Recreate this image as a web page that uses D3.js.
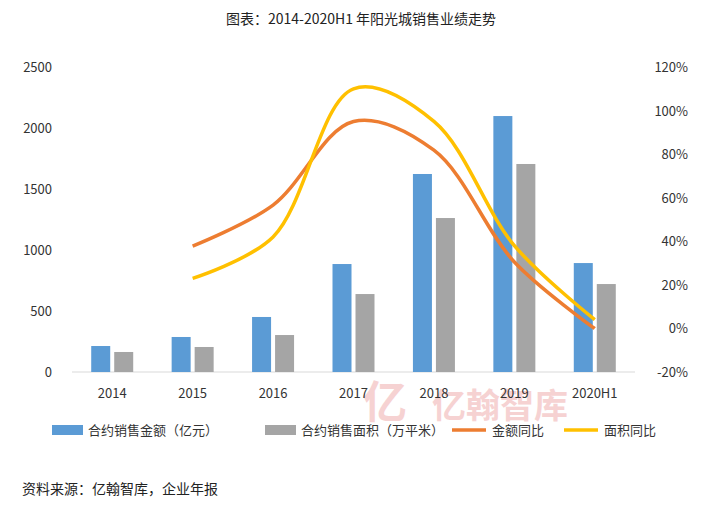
<!DOCTYPE html>
<html>
<head>
<meta charset="utf-8" />
<script src="https://d3js.org/d3.v7.min.js"></script>
<style>
  body { margin: 0; background: #fff; font-family: "Noto Sans CJK SC", "Noto Sans", sans-serif; }
</style>
</head>
<body>
<script>
// data
const years = ["2014", "2015", "2016", "2017", "2018", "2019", "2020H1"];
const amount = [213, 287, 451, 885, 1623, 2098, 893];      // 合约销售金额（亿元）
const area = [164, 205, 303, 639, 1262, 1705, 721];        // 合约销售面积（万平米）
const amountYoY = [null, 37.8, 56.6, 95, 81.8, 30.5, 0];  // 金额同比 %
const areaYoY = [null, 23, 42, 110, 95, 38, 4];           // 面积同比 %
const leftTicks = [0, 500, 1000, 1500, 2000, 2500];
const rightTicks = [-20, 0, 20, 40, 60, 80, 100, 120];

const W = 722, H = 512;
const m = { top: 67, left: 72, right: 87, bottom: 140 };

const svg = d3.select("body").append("svg")
  .attr("width", W).attr("height", H)
  .style("font-family", "'Noto Sans CJK SC', sans-serif");

const x = d3.scaleBand().domain(years).range([m.left, W - m.right]);
const yL = d3.scaleLinear().domain([0, 2500]).range([372, 67]);
const yR = d3.scaleLinear().domain([-20, 120]).range([372, 67]);

// watermark
svg.append("text").attr("x", 500).attr("y", 418).attr("text-anchor", "middle")
  .attr("font-size", 34).attr("font-weight", "bold").attr("fill", "#f6d2d2")
  .text("亿翰智库");
svg.append("text").attr("x", 385).attr("y", 418).attr("text-anchor", "middle")
  .attr("font-size", 44).attr("font-weight", "bold").attr("fill", "#f6d2d2")
  .text("亿");

svg.append("text").attr("x", W / 2).attr("y", 24).attr("text-anchor", "middle")
  .attr("font-size", 14).attr("fill", "#222")
  .text("图表：2014-2020H1 年阳光城销售业绩走势");

svg.append("line").attr("x1", m.left).attr("x2", W - m.right)
  .attr("y1", yL(0)).attr("y2", yL(0)).attr("stroke", "#d9d9d9");

svg.append("g").selectAll("text").data(leftTicks).join("text")
  .attr("x", 52).attr("y", d => yL(d) + 5).attr("text-anchor", "end")
  .attr("font-size", 13).attr("fill", "#333").text(d => d);
svg.append("g").selectAll("text").data(rightTicks).join("text")
  .attr("x", 688).attr("y", d => yR(d) + 5).attr("text-anchor", "end")
  .attr("font-size", 13).attr("fill", "#333").text(d => d + "%");
svg.append("g").selectAll("text").data(years).join("text")
  .attr("x", d => x(d) + x.bandwidth() / 2).attr("y", 398).attr("text-anchor", "middle")
  .attr("font-size", 13).attr("fill", "#333").text(d => d);

const bw = 19;
svg.append("g").selectAll("rect").data(amount).join("rect")
  .attr("x", (d, i) => x(years[i]) + x.bandwidth() / 2 - bw - 2)
  .attr("y", d => yL(d)).attr("width", bw).attr("height", d => yL(0) - yL(d))
  .attr("fill", "#5b9bd5");
svg.append("g").selectAll("rect").data(area).join("rect")
  .attr("x", (d, i) => x(years[i]) + x.bandwidth() / 2 + 2)
  .attr("y", d => yL(d)).attr("width", bw).attr("height", d => yL(0) - yL(d))
  .attr("fill", "#a5a5a5");

const line = d3.line()
  .defined(d => d[1] != null)
  .x(d => x(d[0]) + x.bandwidth() / 2).y(d => yR(d[1]))
  .curve(d3.curveCatmullRom.alpha(0.5));
svg.append("path").datum(years.map((y, i) => [y, amountYoY[i]]))
  .attr("d", line).attr("fill", "none").attr("stroke", "#ed7d31").attr("stroke-width", 3.5);
svg.append("path").datum(years.map((y, i) => [y, areaYoY[i]]))
  .attr("d", line).attr("fill", "none").attr("stroke", "#ffc000").attr("stroke-width", 3.5);

// legend
const leg = [
  { t: "合约销售金额（亿元）", c: "#5b9bd5", type: "rect", x: 52 },
  { t: "合约销售面积（万平米）", c: "#a5a5a5", type: "rect", x: 265 },
  { t: "金额同比", c: "#ed7d31", type: "line", x: 452 },
  { t: "面积同比", c: "#ffc000", type: "line", x: 564 }
];
const lg = svg.append("g").selectAll("g").data(leg).join("g")
  .attr("transform", d => `translate(${d.x},430)`);
lg.filter(d => d.type === "rect").append("rect")
  .attr("x", 0).attr("y", -5).attr("width", 31).attr("height", 10).attr("fill", d => d.c);
lg.filter(d => d.type === "line").append("line")
  .attr("x1", 0).attr("x2", 34).attr("stroke", d => d.c).attr("stroke-width", 3.5);
lg.append("text").attr("x", d => d.type === "rect" ? 36 : 40).attr("y", 5)
  .attr("font-size", 13).attr("fill", "#333").text(d => d.t);

svg.append("text").attr("x", 22).attr("y", 494).attr("font-size", 14).attr("fill", "#222")
  .text("资料来源：亿翰智库，企业年报");
</script>
</body>
</html>
